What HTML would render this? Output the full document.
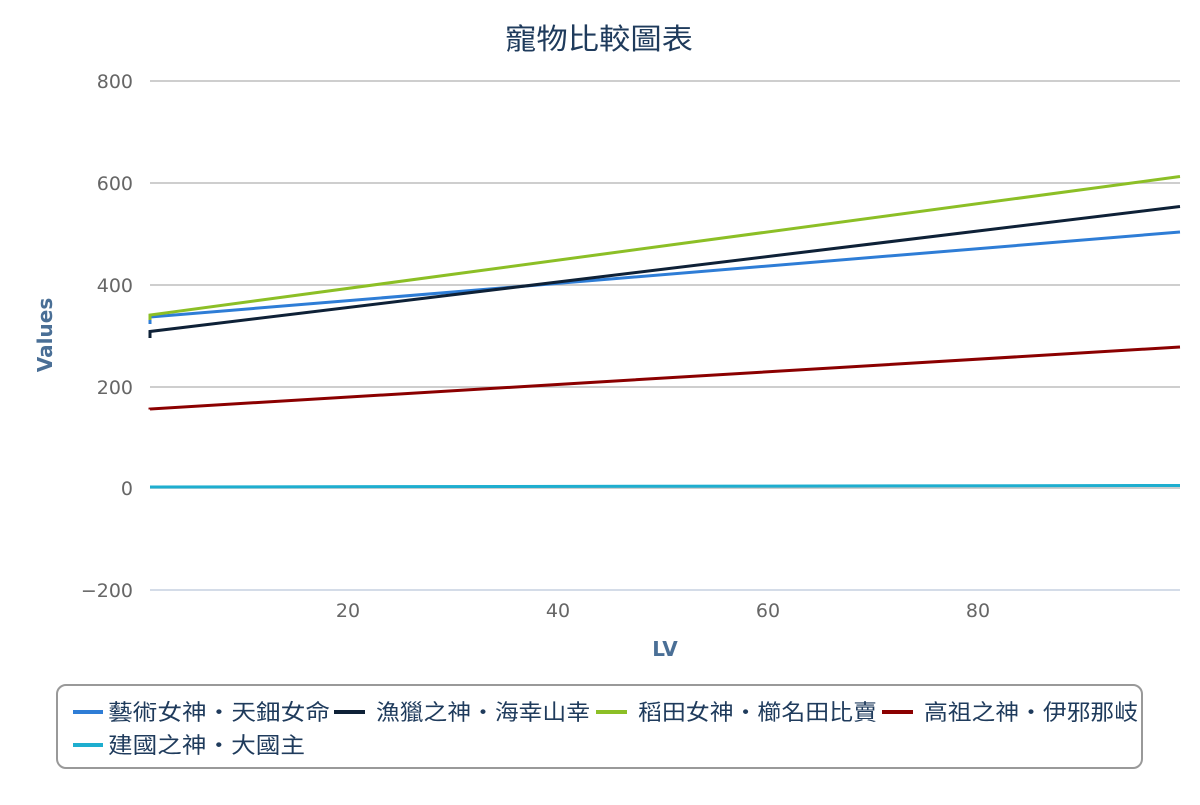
<!DOCTYPE html>
<html><head><meta charset="utf-8"><style>
body{margin:0;background:#fff;}
svg text{font-family:"DejaVu Sans","Liberation Sans","Noto Sans CJK TC",sans-serif;}
</style></head><body>
<svg width="1200" height="800" xmlns="http://www.w3.org/2000/svg">
<text x="505" y="49" font-size="29" fill="#1f3b5c" textLength="188" lengthAdjust="spacingAndGlyphs">寵物比較圖表</text>
<g stroke="#bdbdbd" stroke-width="1.5">
<line x1="150" x2="1180" y1="81" y2="81"/>
<line x1="150" x2="1180" y1="183" y2="183"/>
<line x1="150" x2="1180" y1="285" y2="285"/>
<line x1="150" x2="1180" y1="387" y2="387"/>
<line x1="150" x2="1180" y1="488" y2="488"/>
</g>
<line x1="150" x2="1180" y1="590" y2="590" stroke="#c5d1e0" stroke-width="1.5"/>
<g font-size="19" fill="#666" text-anchor="end">
<text x="133" y="88">800</text><text x="133" y="190">600</text><text x="133" y="292">400</text>
<text x="133" y="394">200</text><text x="133" y="495">0</text><text x="133" y="597">−200</text>
</g>
<g font-size="19" fill="#666" text-anchor="middle">
<text x="348" y="617">20</text><text x="558" y="617">40</text><text x="768" y="617">60</text><text x="978" y="617">80</text>
</g>
<text x="665" y="656" font-size="20" font-weight="bold" fill="#4a6f96" text-anchor="middle">LV</text>
<text transform="translate(52,335) rotate(-90)" font-size="20" font-weight="bold" fill="#4a6f96" text-anchor="middle">Values</text>
<g fill="none" stroke-width="3">
<polyline stroke="#1eaecf" points="150,487 1180,485.5"/>
<polyline stroke="#8b0000" points="150,409.5 150,409 1180,347"/>
<polyline stroke="#2e7dd6" points="150,324 150,317 1180,232"/>
<polyline stroke="#0e2137" points="150,338 150,331.5 1180,206.5"/>
<polyline stroke="#8cbf26" points="150,320 150,315 1180,176.5"/>
</g>
<rect x="57" y="685" width="1085" height="83" rx="9" fill="#fff" stroke="#999" stroke-width="2"/>
<g font-size="22" fill="#1f3b5c" lengthAdjust="spacingAndGlyphs">
<line x1="73" x2="103" y1="712" y2="712" stroke="#2e7dd6" stroke-width="4"/>
<text x="108" y="720" textLength="222" lengthAdjust="spacingAndGlyphs">藝術女神・天鈿女命</text>
<line x1="334" x2="365" y1="712" y2="712" stroke="#0e2137" stroke-width="4"/>
<text x="376" y="720" textLength="214" lengthAdjust="spacingAndGlyphs">漁獵之神・海幸山幸</text>
<line x1="596" x2="627" y1="712" y2="712" stroke="#8cbf26" stroke-width="4"/>
<text x="638" y="720" textLength="239" lengthAdjust="spacingAndGlyphs">稻田女神・櫛名田比賣</text>
<line x1="882" x2="913" y1="712" y2="712" stroke="#8b0000" stroke-width="4"/>
<text x="924" y="720" textLength="214" lengthAdjust="spacingAndGlyphs">高祖之神・伊邪那岐</text>
<line x1="73" x2="103" y1="745" y2="745" stroke="#1eaecf" stroke-width="4"/>
<text x="108" y="753" textLength="197" lengthAdjust="spacingAndGlyphs">建國之神・大國主</text>
</g>
</svg>
</body></html>
